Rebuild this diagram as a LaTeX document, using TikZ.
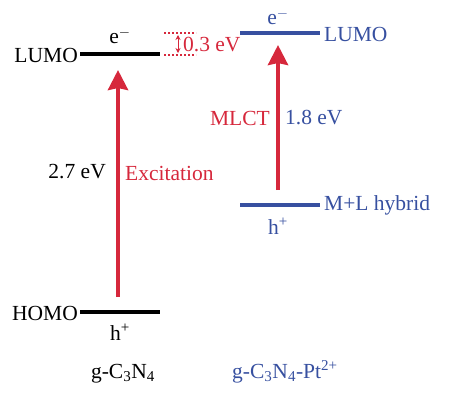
\documentclass[tikz,border=0pt]{standalone}
\usepackage{fontspec}
\setmainfont{Liberation Serif}
\usetikzlibrary{arrows.meta, positioning, calc}
\definecolor{mlctred}{RGB}{214, 40, 60}
\definecolor{ptblue}{RGB}{55, 80, 160}

\begin{document}
\begin{tikzpicture}[x=1pt, y=-1pt,
  level/.style={line width=3.5pt},
  excite/.style={draw=mlctred, line width=4pt, -{Stealth[length=20pt, width=20pt, inset=2pt]}},
  lbl/.style={font=\fontsize{21.5}{25}\selectfont, inner sep=0pt},
  gapline/.style={draw=mlctred, dotted, line width=2pt}
]
  \useasboundingbox (0,0) rectangle (453,402);

  % g-C3N4 levels
  \coordinate (cbL) at (80,54);  \coordinate (cbR) at (160,54);
  \coordinate (vbL) at (80,312); \coordinate (vbR) at (160,312);
  \draw[level] (cbL) -- (cbR);
  \draw[level] (vbL) -- (vbR);
  \node[lbl, anchor=east] (lumoA) at (78,55) {LUMO};
  \node[lbl, anchor=east] (homoA) at (78,313) {HOMO};
  \node[lbl] (eA) at (120,36) {e$^{-}$};
  \node[lbl] (hA) at (120,332) {h\textsuperscript{+}};

  % g-C3N4-Pt2+ levels
  \coordinate (cbPL) at (240,33);  \coordinate (cbPR) at (320,33);
  \coordinate (hyL) at (240,205);  \coordinate (hyR) at (320,205);
  \draw[level, ptblue] (cbPL) -- (cbPR);
  \draw[level, ptblue] (hyL) -- (hyR);
  \node[lbl, ptblue, anchor=west] (lumoB) at (324,34) {LUMO};
  \node[lbl, ptblue, anchor=west] (hybrid) at (324,205) {M+L hybrid};
  \node[lbl, ptblue] (eB) at (278,17) {e$^{-}$};
  \node[lbl, ptblue] (hB) at (278,226) {h\textsuperscript{+}};

  % excitation arrows
  \coordinate (exA0) at (118,297); \coordinate (exA1) at (118,70);
  \coordinate (exB0) at (278,190); \coordinate (exB1) at (278,45);
  \draw[excite] (exA0) -- (exA1);
  \draw[excite] (exB0) -- (exB1);
  \node[lbl, anchor=east] (gapA) at (106,172) {2.7 eV};
  \node[lbl, mlctred, anchor=west] (excit) at (125,173) {Excitation};
  \node[lbl, mlctred, anchor=east] (mlct) at (270,118) {MLCT};
  \node[lbl, ptblue, anchor=west] (gapB) at (285,118) {1.8 eV};

  % 0.3 eV offset
  \coordinate (offT0) at (164,33); \coordinate (offT1) at (196,33);
  \coordinate (offB0) at (164,55); \coordinate (offB1) at (196,55);
  \draw[gapline] (offT0) -- (offT1);
  \draw[gapline] (offB0) -- (offB1);
  \draw[mlctred, line width=1pt, {Stealth[length=5pt, width=5pt]}-{Stealth[length=5pt, width=5pt]}] (178,35) -- (178,53);
  \node[lbl, mlctred, anchor=west] (offset) at (183,45) {0.3 eV};

  % material names
  \node[lbl, anchor=base] (nameA) at (123,378) {g-C\textsubscript{3}N\textsubscript{4}};
  \node[lbl, ptblue, anchor=base west] (nameB) at (232,378) {g-C\textsubscript{3}N\textsubscript{4}-Pt\textsuperscript{2+}};
\end{tikzpicture}
\end{document}
